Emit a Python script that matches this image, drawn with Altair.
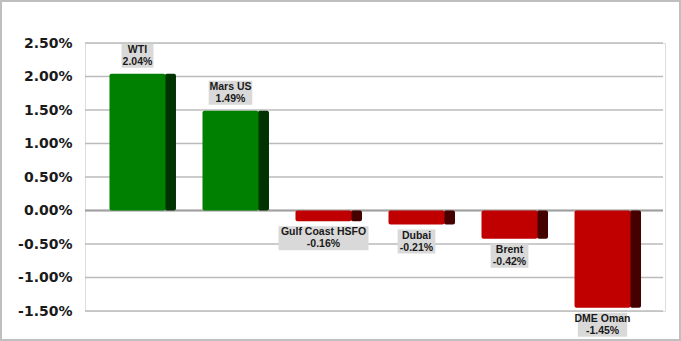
import altair as alt
import pandas as pd

names = ["WTI", "Mars US", "Gulf Coast HSFO", "Dubai", "Brent", "DME Oman"]
changes = [2.04, 1.49, -0.16, -0.21, -0.42, -1.45]
y_ticks = [-1.5, -1.0, -0.5, 0.0, 0.5, 1.0, 1.5, 2.0, 2.5]

df = pd.DataFrame({"name": names, "value": changes})

W, H = 580, 268
x = alt.X("name:N", sort=names, axis=None,
          scale=alt.Scale(paddingInner=0.29, paddingOuter=0.263))
yscale = alt.Scale(domain=[-1.5, 2.5], nice=False)
yaxis = alt.Axis(values=y_ticks, title=None, domain=False, ticks=False,
                 labelPadding=13, labelFont="DejaVu Sans", labelFontWeight="bold",
                 labelFontSize=14, labelColor="#1a1a1a", grid=False, labelOverlap=False,
                 labelExpr="replace(format(datum.value, '.2f'), '\u2212', '-') + '%'")
Y = lambda f: alt.Y(f, scale=yscale, axis=yaxis)

base = alt.Chart(df).transform_calculate(
    pos="datum.value >= 0",
    label="datum.name + '\\n' + replace(format(datum.value, '.2f'), '\u2212', '-') + '%'",
    bw="max(length(datum.name), length(replace(format(datum.value, '.2f'), '\u2212', '-') + '%')) * 5.8 + 3",
)

color_front = alt.Color("pos:N", scale=alt.Scale(domain=[True, False], range=["#008000", "#C00000"]), legend=None)
color_side = alt.Color("pos:N", scale=alt.Scale(domain=[True, False], range=["#003300", "#450000"]), legend=None)

grid = alt.Chart(pd.DataFrame({"t": y_ticks})).mark_rule(color="#BBBBBB", strokeWidth=1.5).encode(
    y=Y("t:Q"), x=alt.value(0), x2=alt.value(W - 2),
)
zero = alt.Chart(pd.DataFrame({"t": [0.0]})).mark_rule(color="#A0A0A0", strokeWidth=2).encode(
    y=Y("t:Q"), x=alt.value(0), x2=alt.value(W - 2),
)

side = base.mark_bar(width=11, xOffset=28, cornerRadius=2).encode(
    x=x, y=Y("value:Q"), y2=alt.datum(0), color=color_side)
front = base.mark_bar(width=56, xOffset=-5, cornerRadius=2).encode(
    x=x, y=Y("value:Q"), y2=alt.datum(0), color=color_front)

box_pos = base.transform_filter("datum.value >= 0").mark_bar(
    color="#D9D9D9", xOffset=-5, yOffset=-30, y2Offset=-6).encode(
    x=x, y=Y("value:Q"), y2="value:Q", size=alt.Size("bw:Q", scale=None, legend=None))
box_neg = base.transform_filter("datum.value < 0").mark_bar(
    color="#D9D9D9", xOffset=-5, yOffset=5, y2Offset=29).encode(
    x=x, y=Y("value:Q"), y2="value:Q", size=alt.Size("bw:Q", scale=None, legend=None))

txt_kw = dict(font="Liberation Sans", fontWeight="bold", fontSize=10.5, color="#1a1a1a",
              lineBreak="\n", lineHeight=12, xOffset=-5, align="center")
text_pos = base.transform_filter("datum.value >= 0").mark_text(baseline="top", dy=-29, **txt_kw).encode(
    x=x, y=Y("value:Q"), text="label:N")
text_neg = base.transform_filter("datum.value < 0").mark_text(baseline="top", dy=6, **txt_kw).encode(
    x=x, y=Y("value:Q"), text="label:N")

border = alt.Chart(pd.DataFrame({"a": [0]})).mark_rect(
    fill=None, stroke="#BFBFBF", strokeWidth=2).encode(
    x=alt.value(-84), x2=alt.value(W + 15), y=alt.value(-42), y2=alt.value(H + 29))

chart = alt.layer(grid, zero, side, front, box_pos, box_neg, text_pos, text_neg, border).resolve_scale(
    color="independent").properties(
    width=W, height=H,
    autosize=alt.AutoSizeParams(type="none"),
    padding={"left": 85, "top": 43, "right": 16, "bottom": 30},
).configure_view(stroke=None).configure_axis(labelOverlap=False).configure(background="white")

chart.save("out.html", embed_options={"renderer": "svg", "actions": False})
